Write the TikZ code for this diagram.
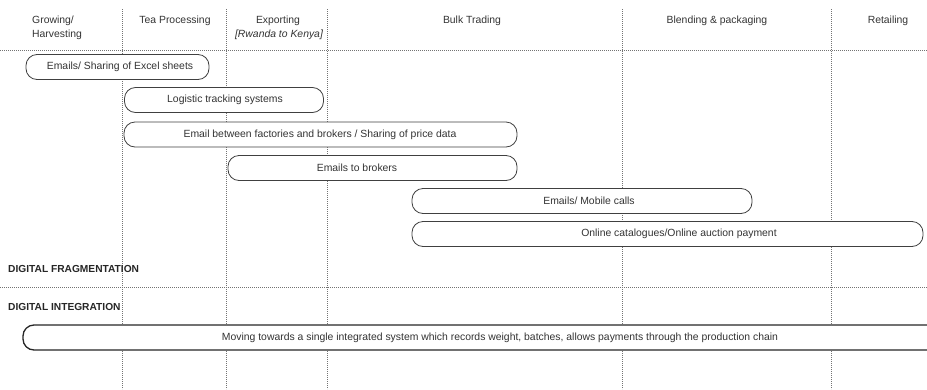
\documentclass[tikz,border=0pt]{standalone}
\usepackage{fontspec}
\setmainfont{Liberation Sans}
\begin{document}
\begin{tikzpicture}[x=1pt,y=-1pt,
  grid/.style={draw=black!55, line width=0.7pt, dash pattern=on 0.7pt off 1.3pt},
  pill/.style={draw=black!75, line width=0.8pt, fill=white, rounded corners=11pt,
               minimum height=25pt, inner sep=0pt},
  bigpill/.style={pill, draw=black!85, line width=1.3pt},
  lbl/.style={font=\fontsize{10.4}{12}\selectfont, text=black!80, inner sep=0pt},
  hdr/.style={lbl, align=center},
  sect/.style={font=\fontsize{10.2}{12}\selectfont\bfseries, text=black!85, inner sep=0pt, anchor=west}]
\useasboundingbox (0,0) rectangle (927,389);
\clip (0,0) rectangle (927,389);

% stage separators and row separators
\coordinate (h1w) at (0,50);   \coordinate (h1e) at (927,50);
\coordinate (h2w) at (0,287);  \coordinate (h2e) at (927,287);
\draw[grid] (h1w) -- (h1e);
\draw[grid] (h2w) -- (h2e);
\foreach \x/\n in {122/a,226/b,327/c,622/d,831/e}{
  \coordinate (v\n t) at (\x,9);
  \coordinate (v\n b) at (\x,389);
  \draw[grid] (v\n t) -- (v\n b);
}

% stage headings
\node[lbl, anchor=west] (g1) at (32,21) {Growing/};
\node[lbl, anchor=west] (g2) at (32,35) {Harvesting};
\node[hdr] (tp) at (175,21) {Tea Processing};
\node[hdr] (ex1) at (278,21) {Exporting};
\node[hdr] (ex2) at (279,35) {\itshape [Rwanda to Kenya]};
\node[hdr] (bt) at (472,21) {Bulk Trading};
\node[hdr] (bp) at (717,21) {Blending \& packaging};
\node[hdr] (rt) at (888,21) {Retailing};

% fragmented tools
\node[pill, minimum width=183pt] (b1) at (117.5,67) {};
\node[lbl] (t1) at (120,67) {Emails/ Sharing of Excel sheets};

\node[pill, minimum width=199pt] (b2) at (224,100) {};
\node[lbl] (t2) at (225,100) {Logistic tracking systems};

\node[pill, minimum width=393pt] (b3) at (320.5,134.5) {};
\node[lbl] (t3) at (320,134.5) {Email between factories and brokers / Sharing of price data};

\node[pill, minimum width=289pt] (b4) at (372.5,168) {};
\node[lbl] (t4) at (357,168) {Emails to brokers};

\node[pill, minimum width=340pt] (b5) at (582,201) {};
\node[lbl] (t5) at (589,201) {Emails/ Mobile calls};

\node[pill, minimum width=511pt] (b6) at (667.5,234) {};
\node[lbl] (t6) at (679,234) {Online catalogues/Online auction payment};

% section labels
\node[sect] (fr) at (8,269) {DIGITAL FRAGMENTATION};
\node[sect] (in) at (8,307) {DIGITAL INTEGRATION};

% integrated system
\node[bigpill, minimum width=920pt] (b7) at (483,337.5) {};
\node[lbl] (t7) at (500,337.5) {Moving towards a single integrated system which records weight, batches, allows payments through the production chain};
\end{tikzpicture}
\end{document}
